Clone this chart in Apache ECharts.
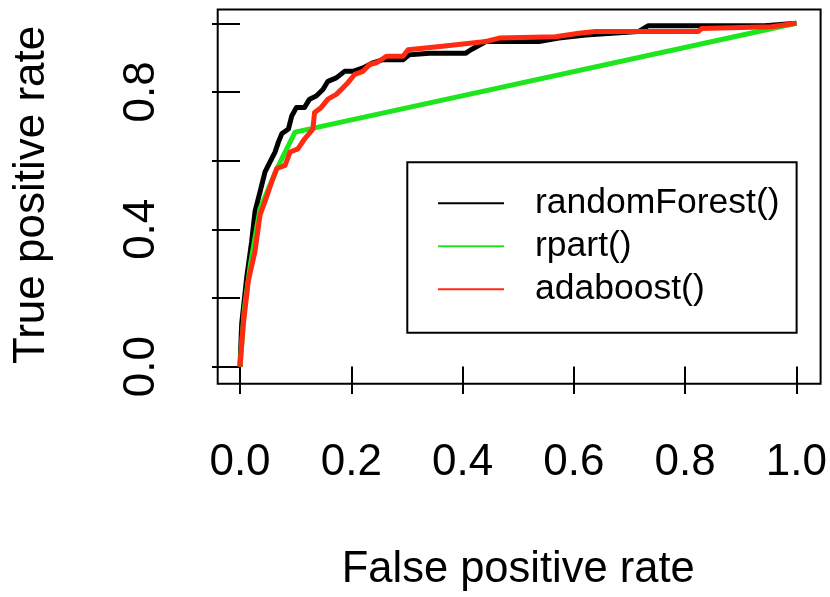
<!DOCTYPE html>
<html>
<head>
<meta charset="utf-8">
<script src="https://cdn.jsdelivr.net/npm/echarts@6/dist/echarts.min.js"></script>
<style>
html,body{margin:0;padding:0;background:#fff;}
#chart{width:830px;height:597px;}
</style>
</head>
<body>
<div id="chart"></div>
<script>
// ---- data (false positive rate, true positive rate) ----
var seriesNames = ['randomForest()', 'rpart()', 'adaboost()'];
var xTicks = [0, 0.2, 0.4, 0.6, 0.8, 1.0];
var yTickLabels = ['0.0', '0.4', '0.8'];

var rfFpr = [0, 0.003, 0.012, 0.021, 0.027, 0.036, 0.045, 0.054, 0.063, 0.069, 0.075, 0.087, 0.093, 0.1015, 0.116, 0.125, 0.137, 0.149, 0.158, 0.173, 0.188, 0.203, 0.221, 0.239, 0.257, 0.293, 0.304, 0.340, 0.406, 0.415, 0.442, 0.537, 0.573, 0.621, 0.716, 0.734, 0.943, 1.0];
var rfTpr = [0, 0.124, 0.259, 0.365, 0.452, 0.509, 0.567, 0.596, 0.625, 0.654, 0.678, 0.692, 0.730, 0.755, 0.755, 0.779, 0.788, 0.807, 0.831, 0.841, 0.860, 0.860, 0.870, 0.885, 0.894, 0.894, 0.908, 0.913, 0.913, 0.923, 0.947, 0.947, 0.957, 0.966, 0.976, 0.993, 0.993, 1.0];

var rpFpr = [0, 0.008, 0.018, 0.036, 0.066, 0.099, 1.0];
var rpTpr = [0, 0.17, 0.29, 0.46, 0.575, 0.683, 1.0];

var adaFpr = [0, 0.006, 0.015, 0.027, 0.036, 0.045, 0.057, 0.066, 0.081, 0.090, 0.104, 0.116, 0.131, 0.134, 0.146, 0.158, 0.173, 0.185, 0.194, 0.206, 0.221, 0.233, 0.245, 0.254, 0.263, 0.293, 0.302, 0.364, 0.442, 0.466, 0.567, 0.609, 0.639, 0.824, 0.830, 0.955, 1.0];
var adaTpr = [0, 0.124, 0.250, 0.336, 0.442, 0.481, 0.538, 0.577, 0.586, 0.625, 0.634, 0.663, 0.692, 0.740, 0.755, 0.779, 0.793, 0.812, 0.827, 0.851, 0.860, 0.880, 0.885, 0.894, 0.904, 0.904, 0.923, 0.933, 0.947, 0.957, 0.961, 0.971, 0.976, 0.976, 0.985, 0.990, 1.0];

function zip(a, b) { return a.map(function (v, i) { return [v, b[i]]; }); }

var FONT = '"Liberation Sans", Arial, sans-serif';
var colors = ['#000000', '#1ee61e', '#ff2a12'];

var chart = echarts.init(document.getElementById('chart'), null, {renderer: 'canvas'});
var option = {
  animation: false,
  backgroundColor: '#ffffff',
  textStyle: {fontFamily: FONT, color: '#000'},
  grid: [
    {left: 240, right: 31.7, top: 23.3, bottom: 227.2, containLabel: false},
    {left: 217.7, right: 9.4, top: 9.4, bottom: 213.3, show: true, borderColor: '#000', borderWidth: 2, backgroundColor: 'transparent', z: 0}
  ],
  xAxis: [
    {
      type: 'value', gridIndex: 0, min: 0, max: 1, interval: 0.2, offset: 13.9,
      axisLine: {show: false},
      axisTick: {show: true, length: 27.5, lineStyle: {color: '#000', width: 2}},
      splitLine: {show: false},
      axisLabel: {fontSize: 44, fontFamily: FONT, color: '#000', margin: 60, lineHeight: 44,
        formatter: function (v) { return v.toFixed(1); }},
      name: 'False positive rate', nameLocation: 'middle', nameGap: 167.5,
      nameTextStyle: {fontSize: 43.5, fontFamily: FONT, color: '#000', lineHeight: 44}
    },
    {type: 'value', gridIndex: 1, show: false, min: 0, max: 1}
  ],
  yAxis: [
    {
      type: 'value', gridIndex: 0, min: 0, max: 1, interval: 0.2, offset: 22.3,
      axisLine: {show: false},
      axisTick: {show: true, length: 28, lineStyle: {color: '#000', width: 2}},
      splitLine: {show: false},
      axisLabel: {fontSize: 44, fontFamily: FONT, color: '#000', margin: 54, lineHeight: 44, rotate: 90,
        formatter: function (v) {
          var s = v.toFixed(1);
          return yTickLabels.indexOf(s) >= 0 ? s : '';
        }},
      name: 'True positive rate', nameLocation: 'middle', nameGap: 164, nameRotate: 90,
      nameTextStyle: {fontSize: 44, fontFamily: FONT, color: '#000', lineHeight: 44}
    },
    {type: 'value', gridIndex: 1, show: false, min: 0, max: 1}
  ],
  legend: {
    orient: 'vertical',
    left: 407.3, top: 162.3,
    padding: [19.5, 17, 22, 30.7],
    borderColor: '#000', borderWidth: 2,
    itemGap: 0, itemWidth: 66, itemHeight: 14,
    icon: 'path://M0,6L66,6L66,8L0,8Z',
    textStyle: {fontSize: 35.5, fontFamily: FONT, color: '#000', lineHeight: 43, padding: [0, 0, 0, 26]},
    data: seriesNames
  },
  series: [
    {name: seriesNames[0], type: 'line', xAxisIndex: 0, yAxisIndex: 0, data: zip(rfFpr, rfTpr),
      showSymbol: false, symbol: 'none', clip: false, color: colors[0],
      lineStyle: {color: colors[0], width: 5, join: 'round'}, z: 3},
    {name: seriesNames[1], type: 'line', xAxisIndex: 0, yAxisIndex: 0, data: zip(rpFpr, rpTpr),
      showSymbol: false, symbol: 'none', clip: false, color: colors[1],
      lineStyle: {color: colors[1], width: 5, join: 'round'}, z: 4},
    {name: seriesNames[2], type: 'line', xAxisIndex: 0, yAxisIndex: 0, data: zip(adaFpr, adaTpr),
      showSymbol: false, symbol: 'none', clip: false, color: colors[2],
      lineStyle: {color: colors[2], width: 5, join: 'round'}, z: 5}
  ]
};
chart.setOption(option);
</script>
</body>
</html>
